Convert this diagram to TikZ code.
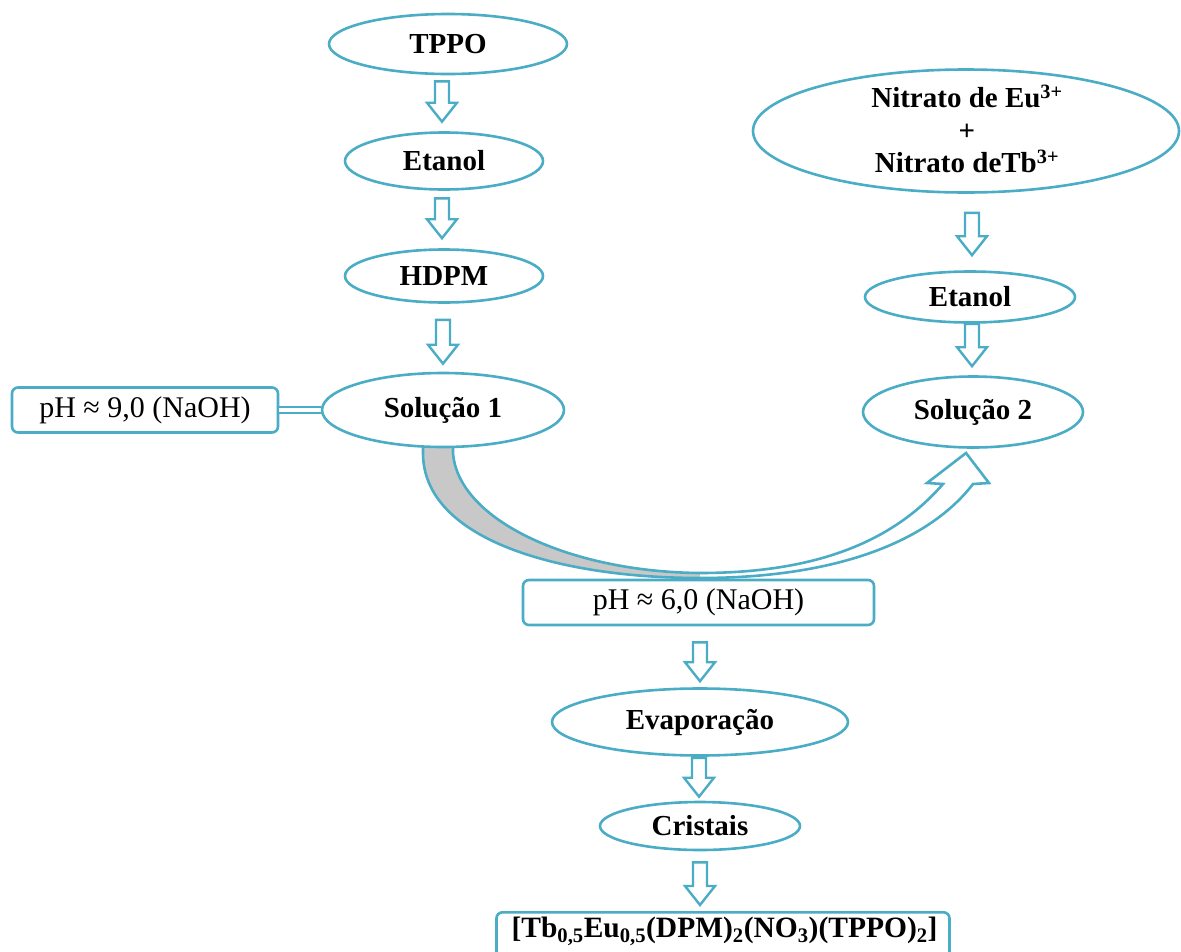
\documentclass[tikz,border=0pt]{standalone}
\usepackage{fontspec}
\setmainfont{Liberation Serif}
\usetikzlibrary{shapes.geometric,calc,backgrounds}
\definecolor{aqua}{RGB}{75,172,198}
\definecolor{ribbon}{RGB}{200,200,200}

% hollow block arrow pointing down, from #1 (top of shaft) to #2 (tip)
\newcommand{\hollowarrow}[2]{%
  \path[hollowline] let \p1=#1, \p2=#2 in
    (\x2-7pt,\y1) -- (\x2+7pt,\y1) -- (\x2+7pt,\y2+19pt) -- (\x2+15pt,\y2+19pt)
    -- (\x2,\y2) -- (\x2-15pt,\y2+19pt) -- (\x2-7pt,\y2+19pt) -- cycle;}

\begin{document}
\begin{tikzpicture}[x=1pt,y=-1pt,
  oval/.style={ellipse, draw=aqua, line width=2.6pt, fill=white, inner sep=0pt,
    font=\bfseries\fontsize{29}{33}\selectfont},
  tag/.style={rectangle, rounded corners=6pt, draw=aqua, line width=2.6pt, fill=white,
    inner sep=0pt, font=\fontsize{30}{34}\selectfont},
  hollowline/.style={draw=aqua, line width=2.4pt, fill=white, line join=miter}]
\useasboundingbox (0,0) rectangle (1181,951);

% left column
\node[oval, minimum width=238pt, minimum height=60pt] (tppo) at (448,44) {TPPO};
\node[oval, minimum width=198pt, minimum height=57pt] (etanolA) at (444,161) {Etanol};
\node[oval, minimum width=198pt, minimum height=53pt] (hdpm) at (444,276) {HDPM};
\node[oval, minimum width=242pt, minimum height=74pt] (sol1) at (443,410) {Solução 1};
\node[tag, minimum width=266pt, minimum height=45pt] (ph9) at (145,410) {pH ≈ 9,0 (NaOH)};

% right column
\node[oval, minimum width=426pt, minimum height=123pt] (nitr) at (966,131) {};
\node[align=center, font=\bfseries\fontsize{29}{32.5}\selectfont] (nitrtxt) at (967,129)
  {Nitrato de Eu\textsuperscript{3+}\\+\\Nitrato deTb\textsuperscript{3+}};
\node[oval, minimum width=210pt, minimum height=51pt] (etanolB) at (970,297) {Etanol};
\node[oval, minimum width=220pt, minimum height=71pt] (sol2) at (973,412) {Solução 2};

% lower column
\node[tag, minimum width=351pt, minimum height=45pt] (ph6) at (698.5,602.5) {pH ≈ 6,0 (NaOH)};
\node[oval, minimum width=296pt, minimum height=67pt] (evap) at (700,722) {Evaporação};
\node[oval, minimum width=200pt, minimum height=48pt] (crist) at (700,826) {Cristais};
\node[tag, minimum width=453pt, minimum height=70pt, anchor=north] (prod) at (723,911) {};
\node[font=\bfseries\fontsize{29.5}{34}\selectfont, anchor=base] (prodtxt) at (724.5,937)
  {[Tb\textsubscript{0,5}Eu\textsubscript{0,5}(DPM)\textsubscript{2}(NO\textsubscript{3})(TPPO)\textsubscript{2}]};

% pH 9 link to solution 1
\draw[aqua, line width=2.4pt, double=white, double distance=3.5pt]
  (ph9.east) -- (ph9.east -| sol1.west);

% curved ribbon arrow from solution 1 to solution 2
\begin{scope}[on background layer]
  \fill[ribbon] (423,440) -- (423,453) .. controls (423,540) and (560,578) .. (700,578)
    -- (700,573) .. controls (570,572) and (458,520) .. (453,453) -- (453,440) -- cycle;
  \fill[white] (700,578) .. controls (840,578) and (930,540) .. (973,484)
    -- (989,483) -- (966,453) -- (927,483) -- (943,484)
    .. controls (890,545) and (810,573) .. (700,573) -- cycle;
  \draw[aqua, line width=2.6pt, line join=miter]
    (423,440) -- (423,453) .. controls (423,540) and (560,578) .. (700,578)
    .. controls (840,578) and (930,540) .. (973,484)
    -- (989,483) -- (966,453) -- (927,483) -- (943,484)
    .. controls (890,545) and (810,573) .. (700,573)
    .. controls (570,572) and (458,520) .. (453,453) -- (453,440);
\end{scope}

% step arrows
\hollowarrow{($(etanolA.north |- tppo.south)+(-2,6)$)}{($(etanolA.north)+(-2,-9.5)$)}
\hollowarrow{($(etanolA.south)+(-2,7.5)$)}{($(hdpm.north)+(-2,-10)$)}
\hollowarrow{($(hdpm.south)+(-2,16)$)}{($(sol1.north)+(0,-8)$)}
\hollowarrow{($(etanolB.north |- nitr.south)+(2,19)$)}{($(etanolB.north)+(2,-15)$)}
\hollowarrow{($(etanolB.south)+(2,0)$)}{($(sol2.north)+(-1,-9)$)}
\hollowarrow{($(evap.north |- ph6.south)+(0,16)$)}{($(evap.north)+(0,-6)$)}
\hollowarrow{($(evap.south)+(0,1)$)}{($(crist.north)+(-1,-4)$)}
\hollowarrow{($(crist.south)+(0,11)$)}{($(prod.north)+(-23,-6)$)}
\end{tikzpicture}
\end{document}
